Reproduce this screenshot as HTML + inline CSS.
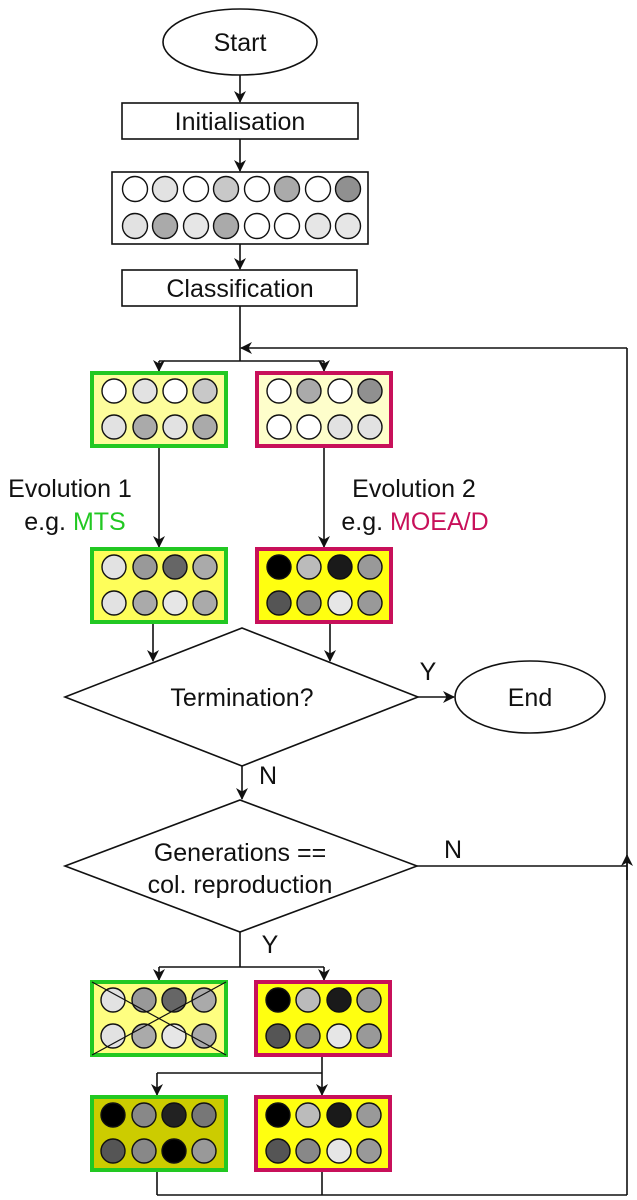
<!DOCTYPE html>
<html><head><meta charset="utf-8"><style>
html,body{margin:0;padding:0;background:#fff;}
svg{display:block;}
text{font-family:"Liberation Sans",Arial,sans-serif;fill:#111;}
</style></head><body>
<svg width="637" height="1200" viewBox="0 0 637 1200" xmlns="http://www.w3.org/2000/svg">
<defs>
<marker id="a" markerWidth="12" markerHeight="12" refX="11" refY="6" orient="auto" markerUnits="userSpaceOnUse">
<path d="M0,0 L12,6 L0,12 L3.5,6 Z" fill="#111"/>
</marker>
</defs>
<g stroke="#111" stroke-width="1.6" fill="none">
<ellipse cx="240" cy="42" rx="77" ry="33" fill="#fff"/>
<line x1="240" y1="75" x2="240" y2="102" marker-end="url(#a)"/>
<rect x="122" y="103" width="236" height="36" fill="#fff"/>
<line x1="240" y1="139" x2="240" y2="171" marker-end="url(#a)"/>
<rect x="112" y="172" width="256" height="72" fill="#fff"/>
<line x1="240" y1="244" x2="240" y2="269" marker-end="url(#a)"/>
<rect x="122" y="270" width="235" height="36" fill="#fff"/>
<line x1="240" y1="306" x2="240" y2="361"/>
<line x1="159" y1="361" x2="324" y2="361"/>
<line x1="159" y1="361" x2="159" y2="371" marker-end="url(#a)"/>
<line x1="324" y1="361" x2="324" y2="371" marker-end="url(#a)"/>
<line x1="627" y1="348" x2="241" y2="348" marker-end="url(#a)"/>
<line x1="627" y1="348" x2="627" y2="1195"/>
<line x1="159" y1="447" x2="159" y2="547" marker-end="url(#a)"/>
<line x1="324" y1="447" x2="324" y2="547" marker-end="url(#a)"/>
<line x1="153" y1="623" x2="153" y2="661" marker-end="url(#a)"/>
<line x1="330" y1="623" x2="330" y2="661" marker-end="url(#a)"/>
<polygon points="242,628 418,697 242,766 65,697" fill="#fff"/>
<line x1="418" y1="697" x2="454" y2="697" marker-end="url(#a)"/>
<ellipse cx="530" cy="697" rx="75" ry="36" fill="#fff"/>
<line x1="242" y1="766" x2="242" y2="799" marker-end="url(#a)"/>
<polygon points="240,800 417,866 240,932 65,866" fill="#fff"/>
<line x1="417" y1="866" x2="627" y2="866"/>
<line x1="627" y1="880" x2="627" y2="855" marker-end="url(#a)"/>
<line x1="240" y1="932" x2="240" y2="967"/>
<line x1="159" y1="967" x2="324" y2="967"/>
<line x1="159" y1="967" x2="159" y2="980" marker-end="url(#a)"/>
<line x1="324" y1="967" x2="324" y2="980" marker-end="url(#a)"/>
<line x1="322" y1="1056" x2="322" y2="1073"/>
<line x1="157" y1="1073" x2="322" y2="1073"/>
<line x1="157" y1="1073" x2="157" y2="1095" marker-end="url(#a)"/>
<line x1="322" y1="1073" x2="322" y2="1095" marker-end="url(#a)"/>
<line x1="157" y1="1171" x2="157" y2="1195"/>
<line x1="322" y1="1171" x2="322" y2="1195"/>
<line x1="157" y1="1195" x2="627" y2="1195"/>
</g>
<g stroke-width="4">
<rect x="92" y="373" width="134" height="73" fill="#fdfd9c" stroke="#22c822"/>
<rect x="257" y="373" width="134" height="73" fill="#fefecb" stroke="#c8105a"/>
<rect x="92" y="549" width="134" height="73" fill="#fefe5a" stroke="#22c822"/>
<rect x="257" y="549" width="134" height="73" fill="#ffff10" stroke="#c8105a"/>
<rect x="92" y="982" width="134" height="73" fill="#fefe80" stroke="#22c822"/>
<rect x="256" y="982" width="134" height="73" fill="#ffff10" stroke="#c8105a"/>
<rect x="92" y="1097" width="134" height="73" fill="#cccc00" stroke="#22c822"/>
<rect x="256" y="1097" width="134" height="73" fill="#ffff10" stroke="#c8105a"/>
</g>
<g stroke="#111" stroke-width="1.4">
<circle cx="135" cy="189" r="12.5" fill="#fff"/><circle cx="165" cy="189" r="12.5" fill="#e2e2e2"/><circle cx="196" cy="189" r="12.5" fill="#fff"/><circle cx="226" cy="189" r="12.5" fill="#c8c8c8"/><circle cx="257" cy="189" r="12.5" fill="#fff"/><circle cx="287" cy="189" r="12.5" fill="#aaa"/><circle cx="318" cy="189" r="12.5" fill="#fff"/><circle cx="348" cy="189" r="12.5" fill="#909090"/>
<circle cx="135" cy="226" r="12.5" fill="#e2e2e2"/><circle cx="165" cy="226" r="12.5" fill="#aaa"/><circle cx="196" cy="226" r="12.5" fill="#e6e6e6"/><circle cx="226" cy="226" r="12.5" fill="#aaa"/><circle cx="257" cy="226" r="12.5" fill="#fff"/><circle cx="287" cy="226" r="12.5" fill="#fff"/><circle cx="318" cy="226" r="12.5" fill="#e6e6e6"/><circle cx="348" cy="226" r="12.5" fill="#e6e6e6"/>
<circle cx="114" cy="391" r="12" fill="#fff"/><circle cx="145" cy="391" r="12" fill="#e2e2e2"/><circle cx="175" cy="391" r="12" fill="#fff"/><circle cx="205" cy="391" r="12" fill="#c8c8c8"/>
<circle cx="114" cy="427" r="12" fill="#e2e2e2"/><circle cx="145" cy="427" r="12" fill="#aaa"/><circle cx="175" cy="427" r="12" fill="#e2e2e2"/><circle cx="205" cy="427" r="12" fill="#aaa"/>
<circle cx="279" cy="391" r="12" fill="#fff"/><circle cx="309" cy="391" r="12" fill="#aaa"/><circle cx="340" cy="391" r="12" fill="#fff"/><circle cx="370" cy="391" r="12" fill="#909090"/>
<circle cx="279" cy="427" r="12" fill="#fff"/><circle cx="309" cy="427" r="12" fill="#fff"/><circle cx="340" cy="427" r="12" fill="#e2e2e2"/><circle cx="370" cy="427" r="12" fill="#e2e2e2"/>
<circle cx="114" cy="567" r="12" fill="#e2e2e2"/><circle cx="145" cy="567" r="12" fill="#999"/><circle cx="175" cy="567" r="12" fill="#666"/><circle cx="205" cy="567" r="12" fill="#aaa"/>
<circle cx="114" cy="603" r="12" fill="#e2e2e2"/><circle cx="145" cy="603" r="12" fill="#aaa"/><circle cx="175" cy="603" r="12" fill="#e6e6e6"/><circle cx="205" cy="603" r="12" fill="#aaa"/>
<circle cx="279" cy="567" r="12" fill="#000"/><circle cx="309" cy="567" r="12" fill="#bbb"/><circle cx="340" cy="567" r="12" fill="#1a1a1a"/><circle cx="370" cy="567" r="12" fill="#999"/>
<circle cx="279" cy="603" r="12" fill="#555"/><circle cx="309" cy="603" r="12" fill="#888"/><circle cx="340" cy="603" r="12" fill="#e6e6e6"/><circle cx="370" cy="603" r="12" fill="#999"/>
<circle cx="113" cy="1000" r="12" fill="#e2e2e2"/><circle cx="144" cy="1000" r="12" fill="#999"/><circle cx="174" cy="1000" r="12" fill="#666"/><circle cx="204" cy="1000" r="12" fill="#aaa"/>
<circle cx="113" cy="1036" r="12" fill="#e2e2e2"/><circle cx="144" cy="1036" r="12" fill="#aaa"/><circle cx="174" cy="1036" r="12" fill="#e6e6e6"/><circle cx="204" cy="1036" r="12" fill="#aaa"/>
<line x1="92" y1="982" x2="226" y2="1055" stroke-width="1.2"/><line x1="92" y1="1055" x2="226" y2="982" stroke-width="1.2"/>
<circle cx="278" cy="1000" r="12" fill="#000"/><circle cx="308" cy="1000" r="12" fill="#bbb"/><circle cx="339" cy="1000" r="12" fill="#1a1a1a"/><circle cx="369" cy="1000" r="12" fill="#999"/>
<circle cx="278" cy="1036" r="12" fill="#555"/><circle cx="308" cy="1036" r="12" fill="#888"/><circle cx="339" cy="1036" r="12" fill="#e6e6e6"/><circle cx="369" cy="1036" r="12" fill="#999"/>
<circle cx="113" cy="1115" r="12" fill="#000"/><circle cx="144" cy="1115" r="12" fill="#888"/><circle cx="174" cy="1115" r="12" fill="#222"/><circle cx="204" cy="1115" r="12" fill="#777"/>
<circle cx="113" cy="1151" r="12" fill="#555"/><circle cx="144" cy="1151" r="12" fill="#888"/><circle cx="174" cy="1151" r="12" fill="#000"/><circle cx="204" cy="1151" r="12" fill="#999"/>
<circle cx="278" cy="1115" r="12" fill="#000"/><circle cx="308" cy="1115" r="12" fill="#bbb"/><circle cx="339" cy="1115" r="12" fill="#1a1a1a"/><circle cx="369" cy="1115" r="12" fill="#999"/>
<circle cx="278" cy="1151" r="12" fill="#555"/><circle cx="308" cy="1151" r="12" fill="#888"/><circle cx="339" cy="1151" r="12" fill="#e6e6e6"/><circle cx="369" cy="1151" r="12" fill="#999"/>
</g>
<g font-size="25" text-anchor="middle">
<text x="240" y="51">Start</text>
<text x="240" y="130">Initialisation</text>
<text x="240" y="297">Classification</text>
<text x="70" y="497">Evolution 1</text>
<text x="75" y="530">e.g. <tspan style="fill:#22c822">MTS</tspan></text>
<text x="414" y="497">Evolution 2</text>
<text x="415" y="530">e.g. <tspan style="fill:#c8105a">MOEA/D</tspan></text>
<text x="242" y="706">Termination?</text>
<text x="530" y="706">End</text>
<text x="428" y="680">Y</text>
<text x="268" y="784">N</text>
<text x="240" y="861">Generations ==</text>
<text x="240" y="893">col. reproduction</text>
<text x="453" y="858">N</text>
<text x="270" y="953">Y</text>
</g>
</svg>
</body></html>
